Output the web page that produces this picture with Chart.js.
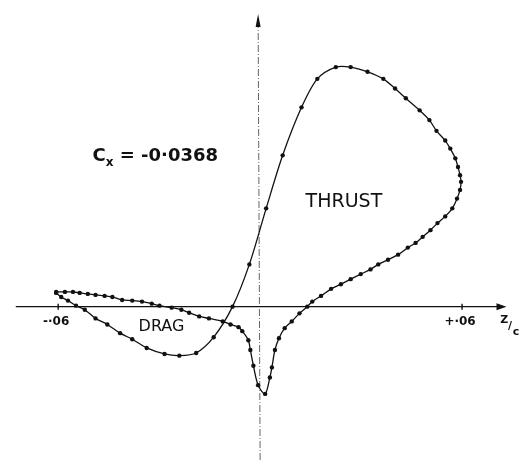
<!DOCTYPE html>
<html lang="en">
<head>
    <meta charset="UTF-8">
    <title>Cx loop</title>
    <script src="https://cdn.jsdelivr.net/npm/chart.js"></script>
    <style>
        body { margin: 0; background: #fff; }
        canvas { display: block; }
    </style>
</head>
<body>
    <canvas id="loopChart" width="530" height="464"></canvas>

    <script>
        // z/c (horizontal) and force (vertical) around one closed cycle,
        // starting at the left tip and running along the upper drag branch first
        const zc = [
            -0.0606, -0.0580, -0.0556, -0.0536, -0.0512, -0.0489, -0.0462, -0.0439, -0.0410, -0.0380,
            -0.0351, -0.0322, -0.0299, -0.0263, -0.0234, -0.0211, -0.0181, -0.0152, -0.0111, -0.0088,
            -0.0064, -0.0053, -0.0035, -0.0029, -0.0020, -0.0006, 0.0015, 0.0029, 0.0035, 0.0044,
            0.0056, 0.0073, 0.0094, 0.0117, 0.0140, 0.0155, 0.0181, 0.0211, 0.0240, 0.0269,
            0.0299, 0.0328, 0.0351, 0.0380, 0.0410, 0.0439, 0.0462, 0.0483, 0.0506, 0.0527,
            0.0550, 0.0571, 0.0585, 0.0594, 0.0597, 0.0594, 0.0588, 0.0580, 0.0565, 0.0550,
            0.0524, 0.0503, 0.0474, 0.0433, 0.0401, 0.0366, 0.0319, 0.0269, 0.0225, 0.0170,
            0.0123, 0.0067, 0.0018, -0.0032, -0.0082, -0.0138, -0.0190, -0.0240, -0.0284, -0.0337,
            -0.0380, -0.0416, -0.0454, -0.0489, -0.0521, -0.0547, -0.0571, -0.0591, -0.0606
        ];
        const force = [
            0.0044, 0.0044, 0.0044, 0.0041, 0.0038, 0.0035, 0.0032, 0.0029, 0.0020, 0.0018,
            0.0015, 0.0009, 0.0003, -0.0003, -0.0009, -0.0018, -0.0029, -0.0035, -0.0044, -0.0053,
            -0.0061, -0.0073, -0.0100, -0.0129, -0.0176, -0.0234, -0.0260, -0.0211, -0.0181, -0.0129,
            -0.0094, -0.0064, -0.0044, -0.0020, 0.0000, 0.0015, 0.0032, 0.0053, 0.0067, 0.0082,
            0.0097, 0.0111, 0.0126, 0.0140, 0.0155, 0.0176, 0.0190, 0.0208, 0.0228, 0.0249,
            0.0269, 0.0293, 0.0322, 0.0348, 0.0372, 0.0392, 0.0416, 0.0442, 0.0471, 0.0495,
            0.0524, 0.0556, 0.0585, 0.0621, 0.0650, 0.0679, 0.0700, 0.0714, 0.0714, 0.0679,
            0.0594, 0.0451, 0.0293, 0.0126, 0.0000, -0.0091, -0.0138, -0.0146, -0.0141, -0.0123,
            -0.0097, -0.0079, -0.0053, -0.0035, -0.0009, 0.0003, 0.0018, 0.0029, 0.0041
        ];

        const tickValues = [-0.06, 0.06];
        const tickLabels = ['-·06', '+·06'];

        const ink = '#111';

        function arrowHead(ctx, x, y, dx, dy, len, half) {
            // filled triangle pointing along (dx, dy)
            const px = -dy, py = dx;
            ctx.beginPath();
            ctx.moveTo(x, y);
            ctx.lineTo(x - dx * len + px * half, y - dy * len + py * half);
            ctx.lineTo(x - dx * len - px * half, y - dy * len - py * half);
            ctx.closePath();
            ctx.fill();
        }

        // hand-drawn style axes through the origin
        const axesPlugin = {
            id: 'originAxes',
            beforeDatasetsDraw(chart) {
                const { ctx, scales: { x, y } } = chart;
                const x0 = x.getPixelForValue(0);
                const y0 = y.getPixelForValue(0);
                ctx.save();

                // vertical axis: thin dash-dot line with arrow
                const yTop = y.getPixelForValue(0.0866);
                ctx.strokeStyle = '#666';
                ctx.lineWidth = 1;
                ctx.setLineDash([7, 2, 1, 2]);
                ctx.beginPath();
                ctx.moveTo(x0, y.getPixelForValue(y.min));
                ctx.lineTo(x0 - 2, yTop);
                ctx.stroke();
                ctx.setLineDash([]);
                ctx.fillStyle = ink;
                arrowHead(ctx, x0 - 2, yTop - 2, 0, -1, 13, 2.5);

                // horizontal axis with arrow
                const xL = x.getPixelForValue(-0.0726);
                const xR = x.getPixelForValue(0.0732);
                ctx.strokeStyle = ink;
                ctx.lineWidth = 1.4;
                ctx.beginPath();
                ctx.moveTo(xL, y0);
                ctx.lineTo(xR - 6, y0);
                ctx.stroke();
                arrowHead(ctx, xR, y0, 1, 0, 10, 3.5);

                // ticks and tick labels
                ctx.font = 'bold 12px "DejaVu Sans"';
                ctx.textAlign = 'center';
                ctx.textBaseline = 'middle';
                tickValues.forEach((v, i) => {
                    const px = x.getPixelForValue(v);
                    ctx.beginPath();
                    ctx.moveTo(px, y0 - 3);
                    ctx.lineTo(px, y0 + 3);
                    ctx.stroke();
                    ctx.fillText(tickLabels[i], px - 2, y0 + 15);
                });

                // axis name z/c written diagonally
                ctx.font = 'bold 11px "DejaVu Sans"';
                const zx = x.getPixelForValue(0.0725);
                ctx.fillText('Z', zx, y0 + 13);
                ctx.fillText('/', zx + 6, y0 + 19);
                ctx.fillText('c', zx + 12, y0 + 25);
                ctx.restore();
            },
            afterDatasetsDraw(chart) {
                const { ctx, scales: { x, y } } = chart;
                ctx.save();
                ctx.fillStyle = ink;
                ctx.textBaseline = 'alphabetic';

                // net coefficient
                ctx.textAlign = 'left';
                ctx.font = 'bold 18px "DejaVu Sans"';
                const cx = x.getPixelForValue(-0.0498);
                const cy = y.getPixelForValue(0.0433);
                ctx.fillText('C', cx, cy);
                const cw = ctx.measureText('C').width;
                ctx.font = 'bold 12px "DejaVu Sans"';
                ctx.fillText('x', cx + cw, cy + 5);
                ctx.font = 'bold 18px "DejaVu Sans"';
                ctx.fillText('= -0·0368', cx + cw + 14, cy);

                // region names
                ctx.textAlign = 'center';
                ctx.font = '19px "DejaVu Sans"';
                ctx.fillText('THRUST', x.getPixelForValue(0.0249), y.getPixelForValue(0.0298));
                ctx.font = '16px "DejaVu Sans"';
                ctx.fillText('DRAG', x.getPixelForValue(-0.0293), y.getPixelForValue(-0.0073));
                ctx.restore();
            }
        };

        const ctx = document.getElementById('loopChart').getContext('2d');
        new Chart(ctx, {
            type: 'scatter',
            data: {
                datasets: [{
                    data: zc.map((v, i) => ({ x: v, y: force[i] })),
                    showLine: true,
                    borderColor: ink,
                    borderWidth: 1.3,
                    tension: 0.3,
                    pointRadius: 2.2,
                    pointBackgroundColor: ink,
                    pointBorderWidth: 0
                }]
            },
            options: {
                responsive: false,
                animation: false,
                layout: { padding: 0 },
                plugins: {
                    legend: { display: false },
                    tooltip: { enabled: false }
                },
                scales: {
                    x: { type: 'linear', display: false, min: -0.0761, max: 0.0790 },
                    y: { type: 'linear', display: false, min: -0.0457, max: 0.0902 }
                }
            },
            plugins: [axesPlugin]
        });
    </script>
</body>
</html>
